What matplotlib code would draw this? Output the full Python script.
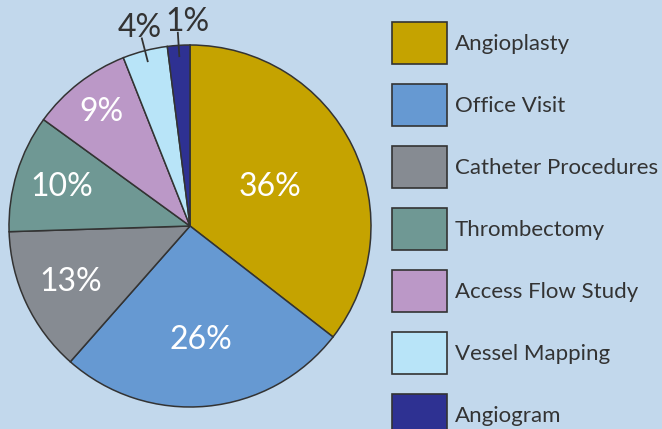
import numpy as np
import matplotlib
matplotlib.use("Agg")
import matplotlib.pyplot as plt
from matplotlib.patches import Patch

# slice sizes (printed labels are rounded)
categories = ["Angioplasty", "Office Visit", "Catheter Procedures", "Thrombectomy",
              "Access Flow Study", "Vessel Mapping", "Angiogram"]
shares = [35.5, 26, 13, 10.5, 9, 4, 2]
pct_labels = ["36%", "26%", "13%", "10%", "9%", "4%", "1%"]
colors = ["#c5a300", "#6699d2", "#868b92", "#6f9894", "#bb98c7", "#b8e4f8", "#2e3192"]

bg = "#c2d8ec"
plt.rcParams['font.family'] = ['Lato', 'DejaVu Sans']

fig = plt.figure(figsize=(6.62, 4.29), dpi=100, facecolor=bg)

# pie centre at (190, 226) px, radius 181 px
W, H = 662, 429
cx, cy, r = 190, 226, 181
lim = 1.3
ax = fig.add_axes([(cx - lim * r) / W, (H - cy - lim * r) / H, 2 * lim * r / W, 2 * lim * r / H])
ax.set_facecolor(bg)

wedges, _ = ax.pie(shares, colors=colors, startangle=90, counterclock=False,
                   wedgeprops=dict(edgecolor="#333333", linewidth=1.1))
ax.set_xlim(-lim, lim)
ax.set_ylim(-lim, lim)
ax.axis("off")

inside_r = [0.49, 0.63, 0.73, 0.74, 0.80]
outside_dx = [0.01, 0.06]
for i, w in enumerate(wedges):
    mid = np.deg2rad((w.theta1 + w.theta2) / 2)
    if i < len(inside_r):
        ax.text(inside_r[i] * np.cos(mid), inside_r[i] * np.sin(mid), pct_labels[i],
                color="white", fontsize=23, ha="center", va="center")
    else:
        ax.plot([0.94 * np.cos(mid), 1.07 * np.cos(mid)],
                [0.94 * np.sin(mid), 1.07 * np.sin(mid)], color="#333333", lw=1.3)
        ax.text(1.16 * np.cos(mid) + outside_dx[i - 5], 1.13 * np.sin(mid), pct_labels[i],
                color="#333333", fontsize=23, ha="center", va="center")

handles = [Patch(facecolor=c, edgecolor="#333333", linewidth=1.2) for c in colors]
fs = 16
fpx = fs * 100 / 72
fig.legend(handles, categories, loc="upper left", bbox_to_anchor=(392 / W, 1 - 22 / H),
           frameon=False, fontsize=fs, handlelength=55 / fpx,
           handleheight=(42 / fpx - 0.245) / 0.65, labelspacing=0.9, handletextpad=0.35,
           borderpad=0, borderaxespad=0, labelcolor="#333333")

fig.savefig("out.png", dpi=100, facecolor=bg)
